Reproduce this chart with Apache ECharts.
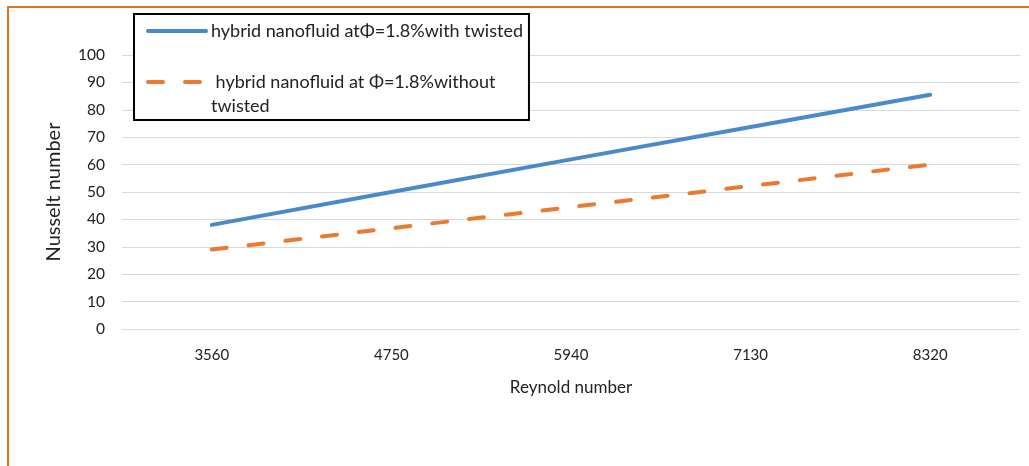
<!DOCTYPE html>
<html>
<head>
<meta charset="utf-8">
<script src="https://cdn.jsdelivr.net/npm/echarts@6/dist/echarts.min.js"></script>
<style>
    html, body { margin: 0; padding: 0; background: #fff; }
    .frame {
        position: absolute; left: 7px; top: 6px; width: 1022px; height: 458px;
        border-top: 2px solid #e8731f; border-left: 2px solid #e8731f;
        border-bottom: 1px solid #f6ddd2;
    }
    #chart { position: absolute; left: 0; top: 0; width: 1029px; height: 466px; }
</style>
</head>
<body>
<div class="frame"></div>
<div id="chart"></div>
<script>
    // Reynold number categories
    var reynolds = ['3560', '4750', '5940', '7130', '8320'];
    // Nusselt number values
    var withTwisted = [38, 50, 61.9, 73.7, 85.5];
    var withoutTwisted = [29, 36.8, 44.5, 52.2, 60];

    var nameWith = 'hybrid nanofluid at\u03A6=1.8%with twisted';
    var nameWithout = ' hybrid nanofluid at \u03A6=1.8%without\ntwisted';

    var font = 'Lato, "Liberation Sans", sans-serif';
    var chart = echarts.init(document.getElementById('chart'));

    var option = {
        animation: false,
        textStyle: { fontFamily: font },
        grid: { left: 122, right: 9, top: 55, bottom: 137 },
        legend: {
            orient: 'vertical',
            left: 134,
            top: 14,
            padding: [5, 6, 2, 12],
            itemGap: 3,
            itemWidth: 58,
            itemHeight: 14,
            backgroundColor: '#fff',
            borderColor: '#000',
            borderWidth: 2,
            borderRadius: 0,
            itemStyle: { opacity: 0 },
            lineStyle: { width: 4, cap: 'round' },
            textStyle: { fontSize: 18, color: '#222', lineHeight: 24, fontFamily: font },
            // the wrapped entry sits with its first line level with the icon
            formatter: function (name) {
                return name === nameWithout ? '\n' + name : name;
            },
            data: [nameWith, nameWithout]
        },
        xAxis: {
            type: 'category',
            data: reynolds,
            name: 'Reynold number',
            nameLocation: 'middle',
            nameGap: 50,
            nameTextStyle: { fontSize: 17, color: '#222' },
            axisLine: { lineStyle: { color: '#d9d9d9' } },
            axisTick: { show: false },
            axisLabel: { fontSize: 15, color: '#222', margin: 19 }
        },
        yAxis: {
            type: 'value',
            min: 0,
            max: 100,
            interval: 10,
            name: 'Nusselt number',
            nameLocation: 'middle',
            nameGap: 58,
            nameTextStyle: { fontSize: 20, color: '#222' },
            axisLine: { show: false },
            axisTick: { show: false },
            axisLabel: { fontSize: 15.5, color: '#222', margin: 17 },
            splitLine: { lineStyle: { color: '#d9d9d9', width: 1 } }
        },
        series: [
            {
                name: nameWith,
                type: 'line',
                data: withTwisted,
                symbol: 'none',
                color: '#4a8ac9',
                lineStyle: { width: 4, color: '#4a8ac9', cap: 'round' }
            },
            {
                name: nameWithout,
                type: 'line',
                data: withoutTwisted,
                symbol: 'none',
                color: '#ea7a30',
                lineStyle: { width: 4, color: '#ea7a30', type: [15, 22], cap: 'round' }
            }
        ]
    };

    chart.setOption(option);
</script>
</body>
</html>
